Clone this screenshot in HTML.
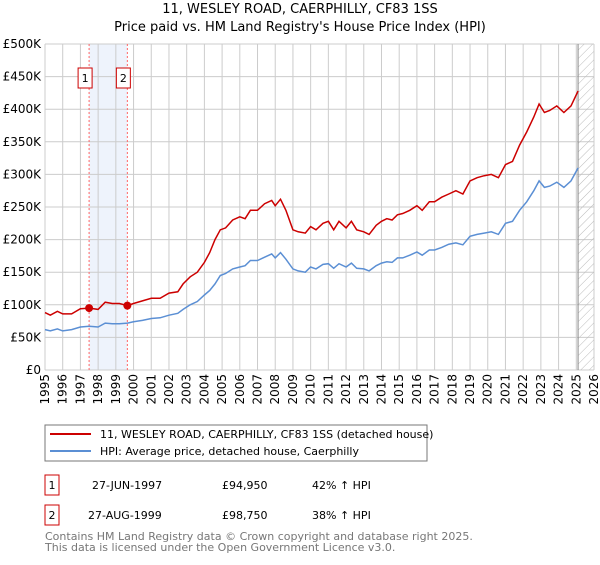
<!DOCTYPE html>
<html><head><meta charset="utf-8"><style>
body{margin:0;width:600px;height:560px;background:#fff;font-family:"Liberation Sans","DejaVu Sans",sans-serif;overflow:hidden}
svg text{font-family:"DejaVu Sans","Liberation Sans",sans-serif}
</style></head><body>
<svg id="chart" width="600" height="560">
<text x="300" y="13" text-anchor="middle" font-size="13">11, WESLEY ROAD, CAERPHILLY, CF83 1SS</text>
<text x="300" y="31" text-anchor="middle" font-size="13">Price paid vs. HM Land Registry's House Price Index (HPI)</text>
<defs><pattern id="hatch" width="6" height="6" patternUnits="userSpaceOnUse" patternTransform="rotate(45)"><line x1="0" y1="0" x2="0" y2="6" stroke="#bbb" stroke-width="1"/></pattern></defs>
<g id="grid"></g><g id="marks"></g><g id="axes"></g>
<rect x="45" y="425" width="382" height="36" fill="#fff" stroke="#777"/>
<line x1="50" y1="434" x2="91" y2="434" stroke="#cc0000" stroke-width="2"/>
<text x="100" y="438" font-size="11">11, WESLEY ROAD, CAERPHILLY, CF83 1SS (detached house)</text>
<line x1="50" y1="451" x2="91" y2="451" stroke="#5b8fd4" stroke-width="2"/>
<text x="100" y="455" font-size="11">HPI: Average price, detached house, Caerphilly</text>
<g font-size="11">
<rect x="45" y="475" width="14" height="20" fill="#fff" stroke="#cc0000"/><text x="52" y="489" text-anchor="middle">1</text>
<text x="92" y="489">27-JUN-1997</text><text x="222" y="489">£94,950</text><text x="312" y="489">42% ↑ HPI</text>
<rect x="45" y="505" width="14" height="20" fill="#fff" stroke="#cc0000"/><text x="52" y="519" text-anchor="middle">2</text>
<text x="88" y="519">27-AUG-1999</text><text x="222" y="519">£98,750</text><text x="312" y="519">38% ↑ HPI</text>
</g>
<text x="45" y="540" font-size="11" fill="#777">Contains HM Land Registry data © Crown copyright and database right 2025.</text>
<text x="45" y="551" font-size="11" fill="#777">This data is licensed under the Open Government Licence v3.0.</text>
</svg>
<script>
const yearTicks=[1995,1996,1997,1998,1999,2000,2001,2002,2003,2004,2005,2006,2007,2008,2009,2010,2011,2012,2013,2014,2015,2016,2017,2018,2019,2020,2021,2022,2023,2024,2025,2026];
const priceTicks=[0,50,100,150,200,250,300,350,400,450,500];
const priceLabels=["£0","£50K","£100K","£150K","£200K","£250K","£300K","£350K","£400K","£450K","£500K"];
const saleYears=[1997.49,1999.65];
const salePrices=[94.95,98.75];
const saleLabels=["1","2"];
const seriesYears=[1995.0,1995.3,1995.7,1996.0,1996.5,1997.0,1997.5,1998.0,1998.4,1998.8,1999.2,1999.66,2000.0,2000.5,2001.0,2001.5,2002.0,2002.5,2002.8,2003.2,2003.6,2004.0,2004.3,2004.6,2004.9,2005.2,2005.6,2006.0,2006.3,2006.6,2007.0,2007.4,2007.8,2008.0,2008.3,2008.6,2009.0,2009.3,2009.7,2010.0,2010.3,2010.7,2011.0,2011.3,2011.6,2012.0,2012.3,2012.6,2013.0,2013.3,2013.7,2014.0,2014.3,2014.6,2014.9,2015.2,2015.6,2016.0,2016.3,2016.7,2017.0,2017.4,2017.8,2018.2,2018.6,2019.0,2019.4,2019.8,2020.2,2020.6,2021.0,2021.4,2021.8,2022.2,2022.6,2022.9,2023.2,2023.5,2023.9,2024.3,2024.7,2025.1];
const propertyValues=[88,84,90,86,86,94,95,93,104,102,102,98.75,102,106,110,110,118,120,132,143,150,165,180,200,215,218,230,235,232,245,245,255,260,252,262,245,215,212,210,220,215,225,228,215,228,218,228,215,212,208,222,228,232,230,238,240,245,252,245,258,258,265,270,275,270,290,295,298,300,295,315,320,345,365,388,408,395,398,405,395,405,428];
const hpiValues=[62,60,63,60,62,66,67,66,72,71,71,72,74,76,79,80,84,87,93,100,105,115,122,132,145,148,155,158,160,168,168,173,178,172,180,170,155,152,150,158,155,162,163,156,163,158,164,156,155,152,160,164,166,165,172,172,176,181,176,184,184,188,193,195,192,205,208,210,212,208,225,228,245,258,275,290,280,282,288,280,290,310];
const forecastStart=2025.1;

const L=45,R=594,T=44,B=370;
const xs=y=>L+(y-1995)/(2026-1995)*(R-L);
const ys=v=>B-v/500*(B-T);
const NS="http://www.w3.org/2000/svg";
function mk(parent,tag,attrs){const e=document.createElementNS(NS,tag);for(const k in attrs)e.setAttribute(k,attrs[k]);parent.appendChild(e);return e;}
const grid=document.getElementById('grid'),marks=document.getElementById('marks'),axes=document.getElementById('axes');

let r=mk(grid,'rect',{x:xs(saleYears[0]),y:T,width:xs(saleYears[1])-xs(saleYears[0]),height:B-T,fill:'#eef3fc'});


yearTicks.forEach(yr=>{const l=mk(grid,'line',{x1:xs(yr),x2:xs(yr),y1:T,y2:B,stroke:'#cccccc'});

});
priceTicks.forEach(v=>{const l=mk(grid,'line',{x1:L,x2:R,y1:ys(v),y2:ys(v),stroke:'#cccccc'});

});
const hz=mk(grid,'rect',{x:xs(forecastStart),y:T,width:R-xs(forecastStart),height:B-T,fill:'url(#hatch)'});


const fl=mk(grid,'line',{x1:xs(forecastStart),x2:xs(forecastStart),y1:T,y2:B,stroke:'#888'});


saleYears.forEach((yr,i)=>{const l=mk(grid,'line',{x1:xs(yr),x2:xs(yr),y1:T,y2:B,stroke:'#ff6666','stroke-dasharray':'2,2'});


const bx=mk(marks,'rect',{x:xs(yr)-11,y:68,width:14,height:20,fill:'#fff',stroke:'#cc0000'});


const t=mk(marks,'text',{x:xs(yr)-4,y:82,'text-anchor':'middle','font-size':'11'});t.textContent=saleLabels[i];

});

function path(vals){return vals.map((v,i)=>(i?'L':'M')+xs(seriesYears[i]).toFixed(1)+','+ys(v).toFixed(1)).join('');}
const hp=mk(marks,'path',{d:path(hpiValues),fill:'none',stroke:'#5b8fd4','stroke-width':1.5});


const pp=mk(marks,'path',{d:path(propertyValues),fill:'none',stroke:'#cc0000','stroke-width':1.5});


saleYears.forEach((yr,i)=>{const c=mk(marks,'circle',{cx:xs(yr),cy:ys(salePrices[i]),r:4,fill:'#cc0000'});

});

priceTicks.forEach((v,i)=>{const t=mk(axes,'text',{x:L-4,y:ys(v)+4,'text-anchor':'end','font-size':'12'});t.textContent=priceLabels[i];

});
yearTicks.forEach(yr=>{const t=mk(axes,'text',{transform:`translate(${xs(yr)+4},374) rotate(-90)`,'text-anchor':'end','font-size':'12'});t.textContent=yr;

});
</script>
</body></html>
